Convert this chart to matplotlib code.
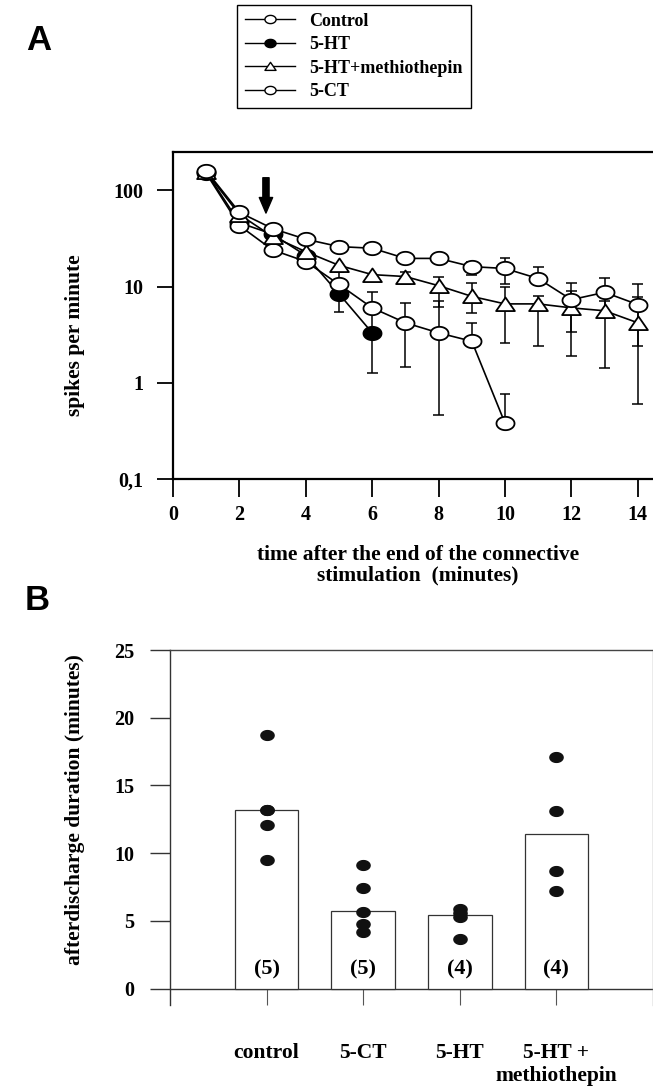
import numpy as np
import matplotlib
matplotlib.use('Agg')
import matplotlib.pyplot as plt
from matplotlib.path import Path
from matplotlib.lines import Line2D
from matplotlib.ticker import FixedLocator, FixedFormatter, NullLocator

SERIF = ['Liberation Serif', 'DejaVu Serif']
plt.rcParams['font.family'] = SERIF
plt.rcParams['font.weight'] = 'bold'

# ---------------- Panel A data ----------------
t_ctrl = [1, 2, 3, 4, 5, 6, 7, 8, 9, 10, 11, 12, 13, 14]
ctrl_y = [160, 59, 40, 31, 26, 25, 19.6, 19.6, 16.1, 15.4, 12.1, 7.3, 8.7, 6.5]
ctrl_lo = [160, 59, 40, 31, 26, 25, 19.6, 19.6, 13.3, 10.5, 10.3, 3.4, 4.7, 2.4]
ctrl_hi = [160, 59, 40, 31, 26, 25, 19.6, 19.6, 18.2, 19.6, 15.8, 11.0, 12.4, 10.5]

t_meth = [1, 2, 3, 4, 5, 6, 7, 8, 9, 10, 11, 12, 13, 14]
meth_y = [155, 56, 33, 23, 16.6, 13.3, 12.7, 10.2, 7.9, 6.6, 6.6, 6.0, 5.6, 4.2]
meth_lo = [155, 56, 33, 23, 16.6, 13.3, 10.5, 6.2, 5.3, 2.6, 2.4, 1.9, 1.43, 0.6]
meth_hi = [155, 56, 33, 23, 16.6, 13.3, 14.3, 12.7, 11.0, 9.8, 7.9, 8.9, 7.0, 7.7]

t_ct = [1, 2, 3, 4, 5, 6, 7, 8, 9, 10]
ct_y = [150, 43, 24, 18.2, 10.5, 6.0, 4.2, 3.3, 2.7, 0.38]
ct_lo = [150, 43, 24, 18.2, 10.5, 3.5, 1.47, 0.46, 2.7, 0.38]
ct_hi = [150, 43, 24, 18.2, 14.0, 8.7, 6.8, 7.0, 4.2, 0.77]

t_ht = [1, 2, 3, 4, 5, 6]
ht_y = [155, 46, 35, 21, 8.4, 3.3]
ht_lo = [155, 46, 35, 21, 5.5, 1.27]
ht_hi = [155, 46, 35, 21, 8.4, 3.3]

a_yticks = [0.1, 1, 10, 100]
a_yticklabels = ['0,1', '1', '10', '100']
a_xticks = [0, 2, 4, 6, 8, 10, 12, 14]
legend_labels = ['Control', '5-HT', '5-HT+methiothepin', '5-CT']
arrow_x = 2.8
arrow_from, arrow_to = 135, 58

# ---------------- Panel B data ----------------
groups = ['control', '5-CT', '5-HT', '5-HT +\nmethiothepin']
bar_heights = [13.2, 5.75, 5.45, 11.4]
n_labels = ['(5)', '(5)', '(4)', '(4)']
dots = [
    [18.7, 13.2, 13.2, 12.1, 9.5],
    [9.1, 7.4, 5.7, 4.8, 4.2],
    [5.9, 5.6, 5.3, 3.7],
    [17.1, 13.1, 8.7, 7.2],
]
b_yticks = [0, 5, 10, 15, 20, 25]

# ---------------- markers ----------------
th = np.linspace(0, 2 * np.pi, 65)
ELL = Path(np.column_stack([np.cos(th), 0.74 * np.sin(th)]), closed=True)
TRI = Path([(-1, -0.7), (1, -0.7), (0, 0.75), (-1, -0.7)], closed=True)

W, H = 653, 1086
fig = plt.figure(figsize=(W / 100, H / 100), dpi=100)

# ================= Panel A =================
axA = fig.add_axes([173 / W, 1 - 479 / H, 498 / W, 327 / H])
axA.set_yscale('log')
axA.set_xlim(0, 15)
axA.set_ylim(0.1, 250)


def errs(ax, x, y, lo, hi, half=0.16):
    x = np.asarray(x, float); y = np.asarray(y, float)
    lo = np.asarray(lo, float); hi = np.asarray(hi, float)
    m = lo < y
    ax.vlines(x[m], lo[m], y[m], color='k', lw=1.1, zorder=2)
    ax.hlines(lo[m], x[m] - half, x[m] + half, color='k', lw=1.1, zorder=2)
    m = hi > y
    ax.vlines(x[m], y[m], hi[m], color='k', lw=1.1, zorder=2)
    ax.hlines(hi[m], x[m] - half, x[m] + half, color='k', lw=1.1, zorder=2)


errs(axA, t_ctrl, ctrl_y, ctrl_lo, ctrl_hi)
errs(axA, t_meth, meth_y, meth_lo, meth_hi)
errs(axA, t_ct, ct_y, ct_lo, ct_hi)
errs(axA, t_ht, ht_y, ht_lo, ht_hi)

kw = dict(color='k', lw=1.2, mec='k', mew=1.3)
axA.plot(t_ht, ht_y, marker=ELL, ms=13, mfc='black', zorder=3, **kw)
axA.plot(t_ct, ct_y, marker=ELL, ms=13, mfc='white', zorder=4, **kw)
axA.plot(t_meth, meth_y, marker=TRI, ms=13.5, mfc='white', zorder=5, **kw)
axA.plot(t_ctrl, ctrl_y, marker=ELL, ms=13, mfc='white', zorder=6, **kw)

axA.annotate('', xy=(arrow_x, arrow_to), xytext=(arrow_x, arrow_from),
             arrowprops=dict(arrowstyle='simple,head_length=0.7,head_width=0.6,tail_width=0.28',
                             fc='k', ec='k', mutation_scale=16, shrinkA=0, shrinkB=0))

axA.yaxis.set_major_locator(FixedLocator(a_yticks))
axA.yaxis.set_major_formatter(FixedFormatter(a_yticklabels))
axA.yaxis.set_minor_locator(NullLocator())
axA.set_xticks(a_xticks)
axA.set_xticklabels([str(v) for v in a_xticks])
axA.tick_params(axis='y', direction='out', length=11.5, width=1.3, pad=10, labelsize=14.5)
axA.tick_params(axis='x', direction='out', length=13, width=1.3, pad=6, labelsize=14.5)
for s in ['left', 'bottom', 'top']:
    axA.spines[s].set_linewidth(1.6)
axA.spines['right'].set_visible(False)

axA.set_xlabel('time after the end of the connective\nstimulation  (minutes)',
               fontsize=15.5, fontweight='bold', linespacing=1.05, labelpad=12)
axA.xaxis.set_label_coords((418 - 173) / 498, -(545 - 479) / 327)
axA.xaxis.label.set_va('top')
axA.set_ylabel('spikes per minute', fontsize=15.5, fontweight='bold', va='center')
axA.yaxis.set_label_coords((75 - 173) / 498, (479 - 335) / 327)

handles = [
    Line2D([], [], color='k', lw=1, marker=ELL, ms=8, mfc='white', mec='k'),
    Line2D([], [], color='k', lw=1, marker=ELL, ms=8, mfc='black', mec='k'),
    Line2D([], [], color='k', lw=1, marker=TRI, ms=8, mfc='white', mec='k'),
    Line2D([], [], color='k', lw=1, marker=ELL, ms=8, mfc='white', mec='k'),
]
leg = fig.legend(handles, legend_labels, loc='upper left', bbox_to_anchor=(237 / W, 1 - 5 / H),
                 frameon=True, fancybox=False, edgecolor='k', framealpha=1,
                 handlelength=2.8, handletextpad=0.8, labelspacing=0.36,
                 borderaxespad=0, borderpad=0.42,
                 prop={'family': SERIF, 'weight': 'bold', 'size': 13})
leg.get_frame().set_linewidth(1.0)

fig.text(39 / W, 1 - 41 / H, 'A', ha='center', va='center', fontsize=25,
         fontweight='bold', family=['Liberation Sans', 'DejaVu Sans'])
fig.text(37 / W, 1 - 600 / H, 'B', ha='center', va='center', fontsize=25,
         fontweight='bold', family=['Liberation Sans', 'DejaVu Sans'])

# ================= Panel B =================
axB = fig.add_axes([170 / W, 1 - 1005 / H, 483 / W, 355 / H])
pos = np.arange(1, len(groups) + 1)
axB.bar(pos, bar_heights, width=0.66, color='white', edgecolor='#333333', linewidth=0.9, zorder=2)
for p, vals in zip(pos, dots):
    axB.plot([p] * len(vals), vals, ls='none', marker=ELL, ms=9.5, color='#111111', zorder=3)
for p, lab in zip(pos, n_labels):
    axB.text(p, 1.4, lab, ha='center', va='center', fontsize=16, fontweight='bold', zorder=4)
axB.axhline(0, color='#333333', lw=1.0, zorder=1)
axB.set_xlim(0, 5)
axB.set_ylim(-1.2, 25)
axB.set_yticks(b_yticks)
axB.set_yticklabels([str(v) for v in b_yticks])
axB.set_xticks(pos)
axB.set_xticklabels(groups, linespacing=1.22, va='top')
axB.tick_params(axis='y', direction='out', length=14.5, width=1.0, color='#333333',
                pad=11, labelsize=14.5)
axB.tick_params(axis='x', direction='in', length=11.5, width=0.8, color='#555555',
                pad=27, labelsize=15.5)
axB.spines['bottom'].set_visible(False)
axB.spines['left'].set_linewidth(1.0)
axB.spines['left'].set_color('#333333')
axB.spines['top'].set_linewidth(1.0)
axB.spines['top'].set_color('#444444')
axB.spines['right'].set_linewidth(1.0)
axB.spines['right'].set_color('#999999')
axB.set_ylabel('afterdischarge duration (minutes)', fontsize=15.5, fontweight='bold', va='center')
axB.yaxis.set_label_coords((75 - 170) / 483, (1005 - 810) / 355)

fig.savefig('out.png', dpi=100)
